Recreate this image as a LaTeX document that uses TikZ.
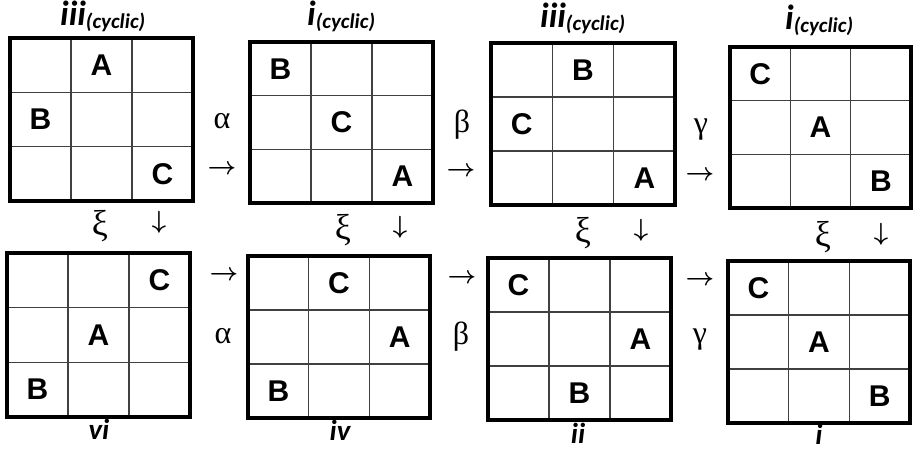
\documentclass[tikz,border=0pt]{standalone}
\usepackage{fontspec}
\setmainfont{Liberation Sans}
\newfontfamily\ttlfont{Carlito}
\newfontfamily\grkfont{Liberation Serif}
\tikzset{
  outer/.style={line width=3.6pt, black},
  inner/.style={line width=1.1pt, black!75},
  letter/.style={font=\fontsize{30}{32}\selectfont\bfseries, inner sep=0pt},
  ttl/.style={font=\ttlfont\fontsize{35}{37}\selectfont\bfseries\itshape, inner sep=0pt, anchor=base west},
  lbl/.style={font=\ttlfont\fontsize{29}{31}\selectfont\bfseries\itshape, inner sep=0pt, anchor=base},
  greek/.style={font=\grkfont\fontsize{32}{34}\selectfont, inner sep=0pt},
  xi/.style={font=\grkfont\fontsize{36}{38}\selectfont, inner sep=0pt},
  arr/.style={font=\fontsize{28}{30}\selectfont\boldmath, inner sep=0pt},
}
\newcommand\latsq[6]{%
  \coordinate (#1-nw) at (#2,#3);
  \coordinate (#1-se) at (#4,#5);
  \foreach \k in {1,2} {
    \draw[inner] ({#2+(#4-#2)*\k/3},#3) -- ({#2+(#4-#2)*\k/3},#5);
    \draw[inner] (#2,{#3+(#5-#3)*\k/3}) -- (#4,{#3+(#5-#3)*\k/3});
  }
  \draw[outer] (#1-nw) rectangle (#1-se);
  \foreach \c/\r/\l in {#6}
    \node[letter] (#1-\l) at ({#2+(#4-#2)*(\c-0.5)/3},{#3+(#5-#3)*(\r-0.5)/3}) {\l};
}
\newcommand\sub[1]{\raisebox{-3pt}{\fontsize{21}{21}\selectfont(#1)}}
\begin{document}
\begin{tikzpicture}[x=1pt,y=-1pt]
\useasboundingbox (0,0) rectangle (913,450);
% top row
\latsq{ga}{10}{38}{193}{201}{2/1/A,1/2/B,3/3/C}
\latsq{gb}{250}{42}{433}{203}{1/1/B,2/2/C,3/3/A}
\latsq{gc}{491}{43}{675}{205}{2/1/B,1/2/C,3/3/A}
\latsq{gd}{730}{47}{911}{208}{1/1/C,2/2/A,3/3/B}
% bottom row
\latsq{ge}{7}{253}{190}{417}{3/1/C,2/2/A,1/3/B}
\latsq{gf}{248}{256}{430}{418}{2/1/C,3/2/A,1/3/B}
\latsq{gg}{488}{258}{671}{420}{1/1/C,3/2/A,2/3/B}
\latsq{gh}{728}{261}{910}{423}{1/1/C,2/2/A,3/3/B}
% titles
\node[ttl] (ta) at (60,25) {iii\sub{cyclic}};
\node[ttl] (tb) at (307,25) {i\sub{cyclic}};
\node[ttl] (tc) at (540,27) {iii\sub{cyclic}};
\node[ttl] (td) at (785,29) {i\sub{cyclic}};
% bottom labels
\node[lbl] (la) at (99,439) {vi};
\node[lbl] (lb) at (340,440) {iv};
\node[lbl] (lc) at (578,443) {ii};
\node[lbl] (ld) at (819,444) {i};
% horizontal operators, top row
\node[greek] (a1) at (222,121) {α};
\node[arr] (r1) at (222,170) {$\rightarrow$};
\node[greek] (b1) at (462,125) {β};
\node[arr] (r2) at (461,172) {$\rightarrow$};
\node[greek] (c1) at (701,130) {γ};
\node[arr] (r3) at (700,176) {$\rightarrow$};
% horizontal operators, bottom row
\node[arr] (r4) at (224,276) {$\rightarrow$};
\node[greek] (a2) at (223,336) {α};
\node[arr] (r5) at (462,279) {$\rightarrow$};
\node[greek] (b2) at (461,337) {β};
\node[arr] (r6) at (700,281) {$\rightarrow$};
\node[greek] (c2) at (700,340) {γ};
% vertical operators
\node[xi] (x1) at (100,226) {ξ};
\node[arr] (d1) at (159,222) {$\downarrow$};
\node[xi] (x2) at (343,230) {ξ};
\node[arr] (d2) at (400,227) {$\downarrow$};
\node[xi] (x3) at (583,233) {ξ};
\node[arr] (d3) at (641,230) {$\downarrow$};
\node[xi] (x4) at (823,237) {ξ};
\node[arr] (d4) at (881,234) {$\downarrow$};
\end{tikzpicture}
\end{document}
